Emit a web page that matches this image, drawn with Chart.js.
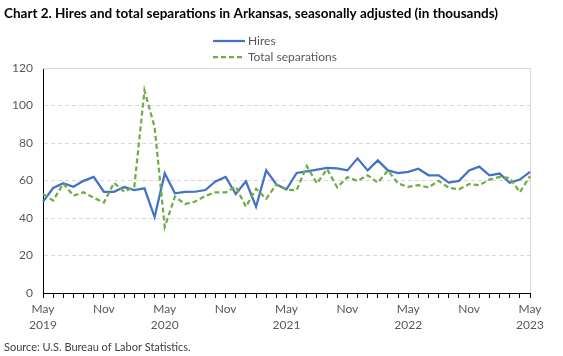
<!DOCTYPE html>
<html><head><meta charset="utf-8">
<script src="https://cdn.jsdelivr.net/npm/chart.js@4/dist/chart.umd.min.js"></script>
<style>html,body{margin:0;padding:0;background:#fff;} #wrap{position:relative;width:563px;height:356px;}</style>
</head><body><div id="wrap"><canvas id="c" width="563" height="356"></canvas></div>
<script>
const titleText = "Chart 2. Hires and total separations in Arkansas, seasonally adjusted (in thousands)";
const sourceText = "Source: U.S. Bureau of Labor Statistics.";
const seriesNames = ["Hires", "Total separations"];
const months = [
  "May 2019","Jun 2019","Jul 2019","Aug 2019","Sep 2019","Oct 2019","Nov 2019","Dec 2019",
  "Jan 2020","Feb 2020","Mar 2020","Apr 2020","May 2020","Jun 2020","Jul 2020","Aug 2020",
  "Sep 2020","Oct 2020","Nov 2020","Dec 2020","Jan 2021","Feb 2021","Mar 2021","Apr 2021",
  "May 2021","Jun 2021","Jul 2021","Aug 2021","Sep 2021","Oct 2021","Nov 2021","Dec 2021",
  "Jan 2022","Feb 2022","Mar 2022","Apr 2022","May 2022","Jun 2022","Jul 2022","Aug 2022",
  "Sep 2022","Oct 2022","Nov 2022","Dec 2022","Jan 2023","Feb 2023","Mar 2023","Apr 2023",
  "May 2023"
];
const tickLabels = [["May","2019"],["Nov"],["May","2020"],["Nov"],["May","2021"],["Nov"],["May","2022"],["Nov"],["May","2023"]];
const yTicks = [0, 20, 40, 60, 80, 100, 120];
const hires = [48.6,56,58.6,56.7,59.8,61.9,54,54,56.5,54.9,55.8,40.5,63.8,
  53.2,53.9,54,54.9,59.5,61.9,52.8,59.6,46,65.4,57.9,55.3,
  64,64.9,65.8,66.7,66.5,65.4,71.8,65.4,70.7,65.4,64,64.6,
  66.3,62.8,62.8,58.9,59.8,65.4,67.4,62.8,63.7,58.8,60.5,64.6];
const separations = [52.8,49.3,58.4,51.9,53.7,50.8,48.2,58.8,54,56.7,108,88.5,35.2,
  51.4,47.4,48.8,51.8,53.7,53.7,56.7,46,55.6,50.2,57.9,55,
  54.9,67.7,58.4,66.1,56.3,61.8,59.8,62.8,58.9,65.3,58.4,56.6,
  57.5,56.3,59.8,56.1,55.3,58.1,57.5,60.5,61.9,61.4,53.7,62.3];

const BLUE = '#4472C4', GREEN = '#70AD47', GREY = '#595959', FONT = 'Lato, "Liberation Sans", sans-serif';

const decor = {
  id: 'decor',
  beforeDatasetsDraw(chart) {
    const {ctx, chartArea: a} = chart;
    ctx.save();
    ctx.strokeStyle = '#d9d9d9'; ctx.lineWidth = 1;
    ctx.beginPath();
    ctx.moveTo(a.left, a.top + 0.5); ctx.lineTo(a.right + 0.5, a.top + 0.5); ctx.lineTo(a.right + 0.5, a.bottom);
    ctx.stroke();
    ctx.restore();
  },
  afterDraw(chart) {
    const ctx = chart.ctx;
    ctx.save();
    // title
    let size = 14;
    ctx.font = 'bold ' + size + 'px ' + FONT;
    const w = ctx.measureText(titleText).width;
    size = size * 494 / w;
    ctx.font = 'bold ' + size.toFixed(2) + 'px ' + FONT;
    ctx.fillStyle = '#000';
    ctx.textBaseline = 'middle'; ctx.textAlign = 'left';
    ctx.fillText(titleText, 4, 14);
    // legend
    const items = [{y: 41, c: BLUE, d: []}, {y: 57, c: GREEN, d: [5, 3]}];
    ctx.font = '12px ' + FONT;
    items.forEach((it, i) => {
      ctx.strokeStyle = it.c; ctx.lineWidth = 2.25; ctx.setLineDash(it.d);
      ctx.beginPath(); ctx.moveTo(213, it.y); ctx.lineTo(245, it.y); ctx.stroke();
      ctx.setLineDash([]);
      ctx.fillStyle = GREY;
      ctx.fillText(seriesNames[i], 248, it.y);
    });
    // source
    ctx.font = '11px ' + FONT;
    ctx.fillStyle = '#404040';
    ctx.fillText(sourceText, 4, 347);
    ctx.restore();
  }
};

new Chart(document.getElementById('c'), {
  type: 'line',
  data: {
    labels: months,
    datasets: [
      {label: seriesNames[0], data: hires, borderColor: BLUE, backgroundColor: BLUE, borderWidth: 2.25, pointRadius: 0, tension: 0, order: 2},
      {label: seriesNames[1], data: separations, borderColor: GREEN, backgroundColor: GREEN, borderWidth: 2.25, borderDash: [5, 3], pointRadius: 0, tension: 0, order: 1}
    ]
  },
  options: {
    responsive: false, animation: false, devicePixelRatio: 1,
    layout: {padding: {left: 0, top: 68, right: 33, bottom: 0}},
    plugins: {legend: {display: false}, title: {display: false}, tooltip: {enabled: false}},
    scales: {
      x: {
        offset: false,
        grid: {display: true, drawOnChartArea: false, drawTicks: true, tickLength: 5, color: '#000'},
        border: {display: true, color: '#000', width: 1},
        ticks: {
          autoSkip: false, maxRotation: 0, minRotation: 0, padding: 3,
          color: GREY, font: {family: FONT, size: 12, lineHeight: 1.33},
          callback: (v, i) => (i % 6 === 0 ? tickLabels[i / 6] : '')
        },
        afterFit(s) { s.height = 63; }
      },
      y: {
        min: 0, max: 120,
        afterBuildTicks(s) { s.ticks = yTicks.map(v => ({value: v})); },
        grid: {drawTicks: false, color: c => (c.tick && (c.tick.value === 0 || c.tick.value === 120)) ? 'rgba(0,0,0,0)' : '#d9d9d9', lineWidth: 1},
        border: {display: true, color: '#000', width: 1, dash: [4, 3]},
        ticks: {padding: 10, color: GREY, font: {family: FONT, size: 12}},
        afterFit(s) { s.width = 43; }
      }
    }
  },
  plugins: [decor]
});
</script>
</body></html>
